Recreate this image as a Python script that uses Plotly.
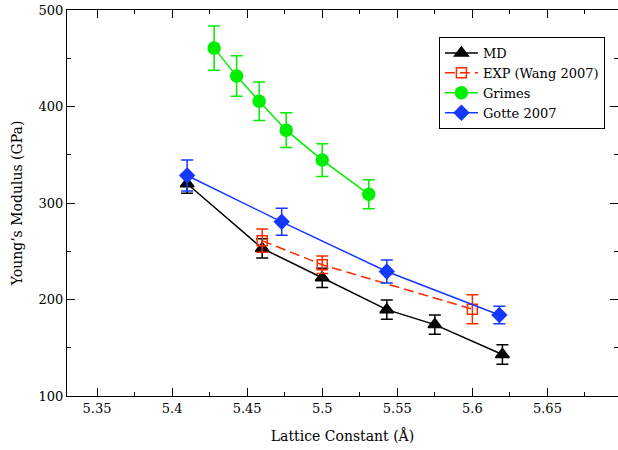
import plotly.graph_objects as go

# MD
md_x = [5.41, 5.46, 5.50, 5.543, 5.575, 5.62]
md_y = [320, 253, 222.5, 189.5, 174, 143]
md_err = [10, 10, 10, 10, 10, 10]

# EXP (Wang 2007)
exp_x = [5.46, 5.50, 5.60]
exp_y = [261, 236, 190]
exp_err = [12, 9, 15]

# Grimes
gr_x = [5.428, 5.443, 5.458, 5.476, 5.500, 5.531]
gr_y = [460.5, 431.5, 405.5, 375.5, 344.5, 309]
gr_err = [23, 21, 20, 18, 17, 15]

# Gotte 2007
go_x = [5.41, 5.473, 5.543, 5.618]
go_y = [328.5, 280.5, 229, 184]
go_err = [16, 14, 12, 9]

x_tickvals = [5.35, 5.40, 5.45, 5.50, 5.55, 5.60, 5.65]
x_ticktext = ["5.35", "5.4", "5.45", "5.5", "5.55", "5.6", "5.65"]
y_tickvals = [100, 200, 300, 400, 500]

FONT = "DejaVu Serif"

fig = go.Figure()

def add(x, y, err, name, color, symbol, size, dash="solid"):
    fig.add_trace(go.Scatter(
        x=x, y=y, name=name, mode="lines+markers",
        line=dict(color=color, width=1.5, dash=dash),
        marker=dict(symbol=symbol, size=size, color=color,
                    line=dict(color=color, width=1.5)),
        error_y=dict(type="data", array=err, visible=True, color=color,
                     thickness=1.5, width=6),
    ))

add(md_x, md_y, md_err, "MD", "black", "triangle-up", 12)
add(exp_x, exp_y, exp_err, "EXP (Wang 2007)", "#ff2a00", "square-open", 10, dash="10px,5px")
add(gr_x, gr_y, gr_err, "Grimes", "#00ee00", "circle", 12)
add(go_x, go_y, go_err, "Gotte 2007", "#1538ff", "diamond", 11)

fig.update_layout(
    width=618, height=450,
    margin=dict(l=67, r=0, t=10, b=54),
    paper_bgcolor="white", plot_bgcolor="white",
    font=dict(family=FONT, size=13, color="black"),
    showlegend=True,
    legend=dict(x=0.675, y=0.93, xanchor="left", yanchor="top",
                bgcolor="white", bordercolor="black", borderwidth=1,
                font=dict(family=FONT, size=13), tracegroupgap=0,
                itemwidth=33),
)
fig.update_xaxes(
    range=[5.33, 5.697],
    tickvals=x_tickvals, ticktext=x_ticktext,
    ticks="inside", ticklen=8, tickwidth=1, tickcolor="black",
    minor=dict(dtick=0.025, tick0=5.35, ticks="inside", ticklen=4, tickcolor="black", showgrid=False),
    showline=True, linecolor="black", linewidth=1, mirror="allticks",
    showgrid=False, zeroline=False,
    tickfont=dict(family=FONT, size=13),
    title=dict(text="Lattice Constant (Å)", font=dict(family=FONT, size=14), standoff=16),
)
fig.update_yaxes(
    range=[100, 500],
    tickvals=y_tickvals,
    ticks="inside", ticklen=8, tickwidth=1, tickcolor="black",
    minor=dict(dtick=50, tick0=100, ticks="inside", ticklen=4, tickcolor="black", showgrid=False),
    showline=True, linecolor="black", linewidth=1, mirror="allticks",
    showgrid=False, zeroline=False,
    tickfont=dict(family=FONT, size=13),
    title=dict(text="Young’s Modulus (GPa)", font=dict(family=FONT, size=14), standoff=12),
)

fig.write_html("out.html")
